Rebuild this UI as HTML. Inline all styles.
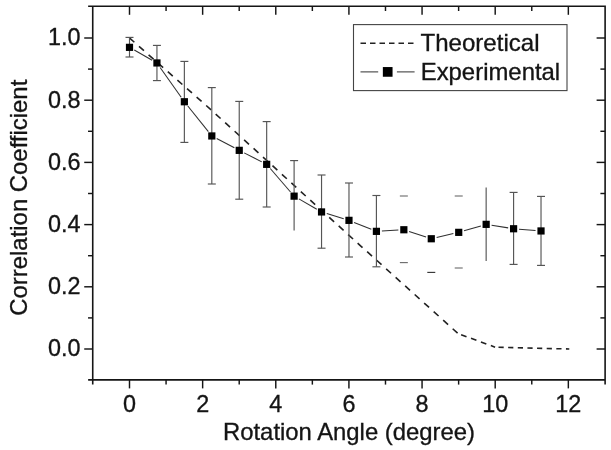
<!DOCTYPE html>
<html><head><meta charset="utf-8"><title>Correlation vs Rotation</title>
<style>
html,body{margin:0;padding:0;background:#fff;}
svg{display:block;filter:grayscale(1);font-family:"Liberation Sans",sans-serif;}
text{fill:#141414;stroke:#141414;stroke-width:0.32px;}
</style></head><body>
<svg width="611" height="450" viewBox="0 0 611 450">
<rect width="611" height="450" fill="#fff"/>

<g stroke="#151515" stroke-width="1.6" fill="none" stroke-linecap="butt">
<path d="M88.13 6.30H605.91M88.13 379.90H605.91M92.73 5.50V384.50M605.11 5.50V384.50"/>
</g>
<g stroke="#151515" stroke-width="1.45" fill="none">
<path d="M129.50 379.90v8.5"/>
<path d="M129.50 6.30v8.5"/>
<path d="M166.07 379.90v4.7"/>
<path d="M166.07 6.30v4.7"/>
<path d="M202.64 379.90v8.5"/>
<path d="M202.64 6.30v8.5"/>
<path d="M239.21 379.90v4.7"/>
<path d="M239.21 6.30v4.7"/>
<path d="M275.78 379.90v8.5"/>
<path d="M275.78 6.30v8.5"/>
<path d="M312.35 379.90v4.7"/>
<path d="M312.35 6.30v4.7"/>
<path d="M348.92 379.90v8.5"/>
<path d="M348.92 6.30v8.5"/>
<path d="M385.49 379.90v4.7"/>
<path d="M385.49 6.30v4.7"/>
<path d="M422.06 379.90v8.5"/>
<path d="M422.06 6.30v8.5"/>
<path d="M458.63 379.90v4.7"/>
<path d="M458.63 6.30v4.7"/>
<path d="M495.20 379.90v8.5"/>
<path d="M495.20 6.30v8.5"/>
<path d="M531.77 379.90v4.7"/>
<path d="M531.77 6.30v4.7"/>
<path d="M568.34 379.90v8.5"/>
<path d="M568.34 6.30v8.5"/>
<path d="M92.73 349.00h-8.5"/>
<path d="M605.11 349.00h-8.5"/>
<path d="M92.73 317.90h-4.7"/>
<path d="M605.11 317.90h-4.7"/>
<path d="M92.73 286.80h-8.5"/>
<path d="M605.11 286.80h-8.5"/>
<path d="M92.73 255.70h-4.7"/>
<path d="M605.11 255.70h-4.7"/>
<path d="M92.73 224.60h-8.5"/>
<path d="M605.11 224.60h-8.5"/>
<path d="M92.73 193.50h-4.7"/>
<path d="M605.11 193.50h-4.7"/>
<path d="M92.73 162.40h-8.5"/>
<path d="M605.11 162.40h-8.5"/>
<path d="M92.73 131.30h-4.7"/>
<path d="M605.11 131.30h-4.7"/>
<path d="M92.73 100.20h-8.5"/>
<path d="M605.11 100.20h-8.5"/>
<path d="M92.73 69.10h-4.7"/>
<path d="M605.11 69.10h-4.7"/>
<path d="M92.73 38.00h-8.5"/>
<path d="M605.11 38.00h-8.5"/>
</g>
<g font-size="23.4px" text-anchor="middle">
<text x="129.50" y="412">0</text>
<text x="202.64" y="412">2</text>
<text x="275.78" y="412">4</text>
<text x="348.92" y="412">6</text>
<text x="422.06" y="412">8</text>
<text x="495.20" y="412">10</text>
<text x="568.34" y="412">12</text>
</g>
<g font-size="23.4px" text-anchor="end">
<text x="80.5" y="356.30">0.0</text>
<text x="80.5" y="294.10">0.2</text>
<text x="80.5" y="231.90">0.4</text>
<text x="80.5" y="169.70">0.6</text>
<text x="80.5" y="107.50">0.8</text>
<text x="80.5" y="45.30">1.0</text>
</g>
<text x="223" y="440" font-size="23.4px" textLength="252" lengthAdjust="spacingAndGlyphs">Rotation Angle (degree)</text>
<text transform="translate(26.8 315.7) rotate(-90)" font-size="23.4px" textLength="236" lengthAdjust="spacingAndGlyphs">Correlation Coefficient</text>
<g stroke="#222" stroke-width="1.6" fill="none">
<path d="M129.4 37.9 L205 104.4 L250 145.2 L300 190.8 L360 245.3 L458.0 333.5" stroke-dasharray="6.59 6.20"/>
<path d="M458.0 333.5L495.1 347.2" stroke-dasharray="5.76 4.80" stroke-dashoffset="7.25"/>
<path d="M495.1 347.2L569.3 349.0" stroke-dasharray="5.20 4.44" stroke-dashoffset="6.24"/>
</g>
<g stroke="#555" stroke-width="1.15" fill="none">
<path d="M129.50 37.40V57.00"/>
<path d="M125.50 37.40h8"/>
<path d="M125.50 57.00h8"/>
<path d="M156.94 45.40V80.60"/>
<path d="M152.94 45.40h8"/>
<path d="M152.94 80.60h8"/>
<path d="M184.37 61.40V142.40"/>
<path d="M180.37 61.40h8"/>
<path d="M180.37 142.40h8"/>
<path d="M211.81 87.60V184.00"/>
<path d="M207.81 87.60h8"/>
<path d="M207.81 184.00h8"/>
<path d="M239.24 101.40V199.20"/>
<path d="M235.24 101.40h8"/>
<path d="M235.24 199.20h8"/>
<path d="M266.67 121.60V207.00"/>
<path d="M262.67 121.60h8"/>
<path d="M262.67 207.00h8"/>
<path d="M294.11 160.60V230.40"/>
<path d="M290.11 160.60h8"/>
<path d="M321.54 175.00V248.20"/>
<path d="M317.54 175.00h8"/>
<path d="M317.54 248.20h8"/>
<path d="M348.98 183.00V257.00"/>
<path d="M344.98 183.00h8"/>
<path d="M344.98 257.00h8"/>
<path d="M376.41 195.50V266.80"/>
<path d="M372.41 195.50h8"/>
<path d="M372.41 266.80h8"/>
<path d="M399.85 196.00h8" stroke="#707070"/>
<path d="M399.85 262.60h8" stroke="#707070"/>
<path d="M427.28 272.40h8" stroke="#3a3a3a"/>
<path d="M454.72 196.00h8" stroke="#707070"/>
<path d="M454.72 268.00h8" stroke="#707070"/>
<path d="M486.15 187.40V261.00"/>
<path d="M513.59 192.40V264.40"/>
<path d="M509.59 192.40h8"/>
<path d="M509.59 264.40h8"/>
<path d="M541.02 196.40V265.40"/>
<path d="M537.02 196.40h8"/>
<path d="M537.02 265.40h8"/>
</g>
<g stroke="#303030" stroke-width="1.05" fill="none">
<path d="M134.28 50.07L152.15 60.23"/>
<path d="M160.11 67.44L181.19 97.26"/>
<path d="M187.81 106.04L208.36 131.66"/>
<path d="M216.67 138.51L234.37 147.79"/>
<path d="M244.14 152.85L261.78 161.85"/>
<path d="M270.27 168.51L290.52 191.99"/>
<path d="M298.88 198.89L316.78 209.21"/>
<path d="M326.80 213.56L343.72 218.74"/>
<path d="M354.08 222.40L371.31 229.30"/>
<path d="M381.91 231.03L398.36 230.07"/>
<path d="M409.08 231.46L426.06 237.04"/>
<path d="M436.64 237.50L453.36 233.60"/>
<path d="M464.00 230.81L480.87 225.89"/>
<path d="M491.59 225.22L508.16 227.88"/>
<path d="M519.07 229.19L535.54 230.51"/>
</g>
<g fill="#000">
<rect x="125.90" y="43.75" width="7.2" height="7.2"/>
<rect x="153.34" y="59.35" width="7.2" height="7.2"/>
<rect x="180.77" y="98.15" width="7.2" height="7.2"/>
<rect x="208.21" y="132.35" width="7.2" height="7.2"/>
<rect x="235.64" y="146.75" width="7.2" height="7.2"/>
<rect x="263.07" y="160.75" width="7.2" height="7.2"/>
<rect x="290.51" y="192.55" width="7.2" height="7.2"/>
<rect x="317.94" y="208.35" width="7.2" height="7.2"/>
<rect x="345.38" y="216.75" width="7.2" height="7.2"/>
<rect x="372.81" y="227.75" width="7.2" height="7.2"/>
<rect x="400.25" y="226.15" width="7.2" height="7.2"/>
<rect x="427.68" y="235.15" width="7.2" height="7.2"/>
<rect x="455.12" y="228.75" width="7.2" height="7.2"/>
<rect x="482.55" y="220.75" width="7.2" height="7.2"/>
<rect x="509.99" y="225.15" width="7.2" height="7.2"/>
<rect x="537.42" y="227.35" width="7.2" height="7.2"/>
</g>
<rect x="353.5" y="24.6" width="213.5" height="66" fill="#fff" stroke="#444" stroke-width="1.1"/>
<path d="M360.5 43.2H414" stroke="#222" stroke-width="1.6" stroke-dasharray="5.5 4" fill="none"/>
<path d="M360.5 71.85H378.2M396.9 71.85H414.6" stroke="#5a5a5a" stroke-width="1.1" fill="none"/>
<rect x="382.85" y="67.05" width="9.7" height="9.7" fill="#000"/>
<text x="420.5" y="50.7" font-size="23.4px" textLength="119" lengthAdjust="spacingAndGlyphs">Theoretical</text>
<text x="420.7" y="80" font-size="23.4px" textLength="139.5" lengthAdjust="spacingAndGlyphs">Experimental</text>
</svg></body></html>
